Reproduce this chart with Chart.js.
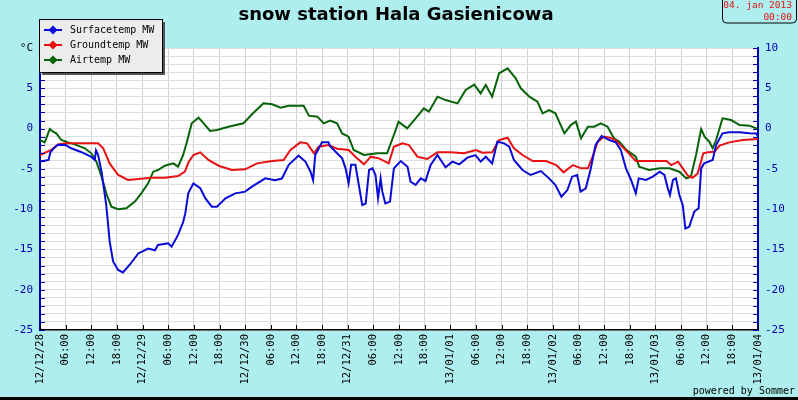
<!DOCTYPE html>
<html>
<head>
<meta charset="utf-8">
<script src="https://cdn.jsdelivr.net/npm/chart.js@4.4.1/dist/chart.umd.min.js"></script>
<style>
  body { margin: 0; background: #afeeee; }
  canvas { display: block; }
</style>
</head>
<body>
<canvas id="snowChart" width="798" height="400"></canvas>
<script>
// hours since 12/12/28 00:00
const dayLabels = ["12/12/28", "12/12/29", "12/12/30", "12/12/31", "13/01/01", "13/01/02", "13/01/03", "13/01/04"];
const hourLabels = ["06:00", "12:00", "18:00"];

const surfaceHours = [0, 2, 2.4, 3.3, 4.2, 6, 7.3, 9.6, 12, 12.8, 13.1, 13.6, 14.4, 15.5, 16.3, 17.1, 18.3, 19.4, 21, 23, 25.3, 26.9, 27.6, 30, 30.8, 32.3, 33.5, 34, 34.7, 35.9, 37.5, 38.7, 40.2, 41.4, 43.4, 45.7, 48, 49.6, 52.7, 55, 56.6, 58.2, 60.5, 62.1, 63.3, 63.9, 64.4, 66, 67.5, 67.9, 69.5, 70.7, 71.5, 72.2, 72.8, 73.8, 74.6, 75.4, 76.2, 77, 77.8, 78.5, 79.1, 79.7, 80.1, 80.8, 81.9, 82.8, 84.4, 86, 86.7, 87.9, 89.1, 90.2, 91.4, 93, 94.9, 96.5, 98.1, 100, 101.9, 103.1, 104.3, 105.8, 107, 108.6, 109.8, 110.9, 112.9, 114.8, 117.2, 119.1, 120.6, 122, 123.4, 124.5, 125.7, 126.5, 127.7, 128.8, 130, 131.4, 133.2, 134.7, 135.9, 137.1, 138.3, 139.4, 140.1, 141.8, 143.4, 145, 146.1, 146.9, 147.4, 148.1, 148.8, 149.6, 150.4, 151, 151.9, 153.1, 154.1, 154.7, 155.4, 157.4, 158.2, 159.7, 161.3, 163.7, 166, 167.6, 168];
const surfaceTemps = [-4.1, -3.9, -3.0, -2.4, -2.0, -2.05, -2.45, -2.9, -3.5, -3.9, -2.7, -3.3, -5.35, -9.5, -14.0, -16.5, -17.55, -17.85, -16.9, -15.5, -14.9, -15.1, -14.45, -14.25, -14.66, -13.2, -11.6, -10.5, -8.0, -6.8, -7.4, -8.66, -9.7, -9.7, -8.66, -8.04, -7.83, -7.2, -6.18, -6.4, -6.2, -4.5, -3.36, -4.1, -5.35, -6.4, -3.28, -1.71, -1.71, -2.2, -3.07, -3.7, -4.94, -6.8, -4.5, -4.5, -7.0, -9.5, -9.3, -5.14, -4.94, -5.76, -8.66, -6.18, -7.83, -9.3, -9.07, -4.94, -4.03, -4.73, -6.59, -7.0, -6.18, -6.5, -4.5, -3.28, -4.81, -4.11, -4.44, -3.61, -3.3, -4.1, -3.49, -4.32, -1.63, -1.83, -2.25, -3.9, -5.14, -5.76, -5.27, -6.18, -7.0, -8.45, -7.63, -5.97, -5.76, -7.83, -7.42, -5.14, -2.04, -0.92, -1.42, -1.7, -2.66, -4.94, -6.38, -8.04, -6.18, -6.38, -5.97, -5.35, -5.76, -7.42, -8.25, -6.38, -6.18, -8.25, -9.5, -12.4, -12.2, -10.3, -9.9, -4.94, -4.32, -3.9, -2.04, -0.59, -0.47, -0.47, -0.59, -0.6, -1.0];

const groundHours = [0, 2.6, 4.2, 6, 8.9, 11.2, 13.6, 14.8, 16.3, 18.3, 20.6, 23, 26.1, 29.2, 32.3, 33.9, 34.8, 35.9, 37.5, 39.4, 41.8, 44.9, 48, 50.8, 54.3, 57, 58.6, 60.9, 62.5, 64.1, 65.2, 67.5, 69.5, 72.2, 73.8, 75.8, 77.4, 79.3, 81.6, 82.8, 84.8, 86.3, 88.3, 90.6, 93, 96.1, 99.2, 102, 103.5, 105.8, 107.4, 109.4, 110.9, 112.9, 115.3, 118.4, 120.8, 122.5, 124.7, 126.6, 128.2, 129.3, 130.5, 132, 133.9, 135, 137.1, 139.4, 141.8, 145, 146.6, 147.7, 149.3, 150.4, 151.6, 152.7, 153.9, 155.2, 156.3, 157.8, 159, 161.3, 164.4, 168];
const groundTemps = [-3.28, -2.66, -1.96, -1.83, -1.83, -1.83, -1.83, -2.45, -4.32, -5.76, -6.38, -6.26, -6.1, -6.1, -5.89, -5.35, -4.11, -3.28, -2.95, -3.9, -4.61, -5.14, -5.06, -4.32, -4.03, -3.9, -2.66, -1.71, -1.83, -3.07, -2.25, -2.04, -2.5, -2.66, -3.49, -4.44, -3.49, -3.7, -4.32, -2.25, -1.83, -2.04, -3.49, -3.78, -2.95, -2.95, -3.07, -2.66, -2.99, -2.95, -1.42, -1.13, -2.45, -3.28, -4.03, -4.03, -4.53, -5.43, -4.53, -4.94, -4.94, -3.49, -1.63, -1.0, -1.21, -1.6, -2.7, -4.03, -4.03, -4.03, -4.03, -4.53, -4.11, -4.94, -5.85, -6.1, -5.56, -3.07, -2.95, -2.87, -2.12, -1.71, -1.42, -1.3];

const airHours = [0, 1.1, 2.3, 3.05, 3.8, 5, 6.6, 8.1, 10.5, 12, 13.2, 14.4, 15.5, 16.7, 18.3, 20.2, 22.2, 23.7, 25.3, 26.5, 27.6, 29.2, 31.2, 32.3, 33.5, 34.3, 35.5, 37.1, 38.3, 39.8, 41.4, 44.1, 47.6, 49.6, 52.3, 54.3, 56.3, 58.2, 61.7, 62.9, 64.9, 66.4, 67.9, 69.5, 70.7, 72.2, 73.4, 75.8, 78.9, 81.2, 82.8, 83.9, 85.9, 87.9, 89.8, 91, 93, 94.9, 97.7, 99.6, 101.6, 103.1, 104.3, 105.8, 107.4, 109.4, 111.3, 112.5, 114.5, 116.4, 117.6, 119.1, 120.6, 122.7, 124.2, 125.4, 126.6, 128.2, 129.7, 131.2, 132.8, 134.3, 135.5, 137.1, 139.4, 140.2, 142.5, 145, 147.3, 149.6, 151.2, 152.3, 153.5, 154.7, 155.5, 156.6, 157.4, 158.2, 159.7, 161.7, 163.7, 166, 168];
const airTemps = [-1.42, -1.71, -0.05, -0.39, -0.6, -1.42, -1.71, -1.96, -2.45, -3.07, -4.11, -5.97, -8.04, -9.7, -10.0, -9.9, -9.07, -8.04, -6.8, -5.35, -5.14, -4.61, -4.32, -4.73, -3.28, -1.8, 0.65, 1.35, 0.65, -0.3, -0.18, 0.23, 0.65, 1.77, 3.13, 3.01, 2.59, 2.84, 2.84, 1.6, 1.48, 0.65, 1.0, 0.65, -0.6, -1.0, -2.66, -3.28, -3.07, -3.07, -0.8, 0.86, 0.03, 1.27, 2.51, 2.1, 3.96, 3.54, 3.13, 4.79, 5.45, 4.37, 5.41, 3.96, 6.85, 7.48, 6.23, 5.0, 3.96, 3.34, 1.89, 2.3, 1.89, -0.6, 0.44, 0.86, -1.21, 0.23, 0.23, 0.65, 0.23, -1.21, -1.6, -2.6, -3.49, -4.73, -5.14, -4.94, -4.94, -5.35, -6.18, -5.97, -3.28, -0.05, -1.0, -1.63, -2.45, -1.42, 1.27, 1.06, 0.44, 0.36, -0.05];

const seriesNames = ["Surfacetemp MW", "Groundtemp MW", "Airtemp MW"];
const seriesColors = ["#0a0ad8", "#e81010", "#076307"];

function toPoints(hours, temps) {
  return hours.map((h, i) => ({ x: h, y: temps[i] }));
}

const mono = "'DejaVu Sans Mono', monospace";

const decorPlugin = {
  id: "decor",
  beforeDraw(chart) {
    const c = chart.ctx;
    const a = chart.chartArea;
    c.save();
    c.fillStyle = "#afeeee";
    c.fillRect(0, 0, chart.width, chart.height);
    c.fillStyle = "#ffffff";
    c.fillRect(a.left, a.top, a.right - a.left, a.bottom - a.top);
    c.restore();
  },
  afterDraw(chart) {
    const c = chart.ctx;
    const a = chart.chartArea;
    const x = chart.scales.x;
    const y = chart.scales.y;
    c.save();

    // inner tick marks
    c.lineWidth = 1;
    c.strokeStyle = "#0000b0";
    for (let v = -25; v <= 10; v++) {
      const py = Math.round(y.getPixelForValue(v)) + 0.5;
      c.beginPath();
      c.moveTo(a.left, py);
      c.lineTo(a.left + 5, py);
      c.moveTo(a.right - 5, py);
      c.lineTo(a.right, py);
      c.stroke();
    }
    c.strokeStyle = "#000000";
    x.ticks.forEach(t => {
      const px = Math.round(x.getPixelForValue(t.value)) + 0.5;
      c.beginPath();
      c.moveTo(px, a.bottom);
      c.lineTo(px, a.bottom - 5);
      c.stroke();
    });

    // title
    c.fillStyle = "#000000";
    c.font = "bold 18px 'DejaVu Sans', sans-serif";
    c.textAlign = "center";
    c.textBaseline = "middle";
    c.fillText("snow station Hala Gasienicowa", 396, 15);

    // legend
    c.fillStyle = "#555555";
    c.fillRect(42, 22, 123, 53);
    c.fillStyle = "#ececec";
    c.fillRect(39.5, 19.5, 123, 53);
    c.strokeStyle = "#000000";
    c.strokeRect(39.5, 19.5, 123, 53);
    c.font = "10px " + mono;
    c.textAlign = "left";
    seriesNames.forEach((name, i) => {
      const ly = 30 + i * 15;
      c.strokeStyle = seriesColors[i];
      c.lineWidth = 2;
      c.beginPath();
      c.moveTo(44, ly);
      c.lineTo(62, ly);
      c.stroke();
      c.fillStyle = seriesColors[i];
      c.beginPath();
      c.moveTo(53, ly - 4.5);
      c.lineTo(57.5, ly);
      c.lineTo(53, ly + 4.5);
      c.lineTo(48.5, ly);
      c.closePath();
      c.fill();
      c.fillStyle = "#000000";
      c.fillText(name, 70, ly);
    });

    // date box
    c.strokeStyle = "#000000";
    c.lineWidth = 1;
    c.beginPath();
    c.roundRect(722.5, -4.5, 74, 27.5, 4);
    c.stroke();
    c.fillStyle = "#e01010";
    c.font = "9.5px " + mono;
    c.textAlign = "right";
    c.fillText("04. jan 2013", 792, 6);
    c.fillText("00:00", 792, 17.5);

    // footer
    c.fillStyle = "#000000";
    c.font = "10px " + mono;
    c.fillText("powered by Sommer", 795, 391);
    c.fillRect(0, 397, chart.width, 3);
    c.restore();
  }
};

const ctx = document.getElementById("snowChart");
new Chart(ctx, {
  type: "line",
  data: {
    datasets: [
      {
        label: seriesNames[0],
        data: toPoints(surfaceHours, surfaceTemps),
        borderColor: seriesColors[0],
      },
      {
        label: seriesNames[1],
        data: toPoints(groundHours, groundTemps),
        borderColor: seriesColors[1],
      },
      {
        label: seriesNames[2],
        data: toPoints(airHours, airTemps),
        borderColor: seriesColors[2],
      },
    ],
  },
  options: {
    responsive: false,
    animation: false,
    elements: {
      line: { borderWidth: 2, tension: 0 },
      point: { radius: 0 },
    },
    layout: {
      padding: { top: 48, left: 0, right: 0, bottom: 0 },
    },
    plugins: {
      legend: { display: false },
      tooltip: { enabled: false },
    },
    scales: {
      x: {
        type: "linear",
        min: 0,
        max: 168,
        afterFit: s => { s.height = 70; },
        border: { color: "#000000", width: 1.5 },
        grid: { color: "#d0d0d0", drawTicks: false },
        ticks: {
          stepSize: 6,
          autoSkip: false,
          minRotation: 90,
          maxRotation: 90,
          padding: 4,
          color: "#000000",
          font: { family: mono, size: 10.5 },
          callback: v => (v % 24 === 0 ? dayLabels[v / 24] : hourLabels[(v % 24) / 6 - 1]),
        },
      },
      y: {
        type: "linear",
        position: "left",
        min: -25,
        max: 10,
        afterFit: s => { s.width = 40; },
        border: { color: "#0000b0", width: 2 },
        grid: { color: "#dedede", drawTicks: false },
        ticks: {
          stepSize: 1,
          autoSkip: false,
          padding: 7,
          color: c => (c.tick.value === 10 ? "#000000" : "#0000b0"),
          font: { family: mono, size: 11 },
          callback: v => (v % 5 === 0 ? (v === 10 ? "°C" : String(v)) : ""),
        },
      },
      y2: {
        type: "linear",
        position: "right",
        min: -25,
        max: 10,
        afterFit: s => { s.width = 40; },
        border: { color: "#0000b0", width: 2 },
        grid: { drawOnChartArea: false, drawTicks: false },
        ticks: {
          stepSize: 1,
          autoSkip: false,
          padding: 7,
          color: "#0000b0",
          font: { family: mono, size: 11 },
          callback: v => (v % 5 === 0 ? String(v) : ""),
        },
      },
    },
  },
  plugins: [decorPlugin],
});
</script>
</body>
</html>
